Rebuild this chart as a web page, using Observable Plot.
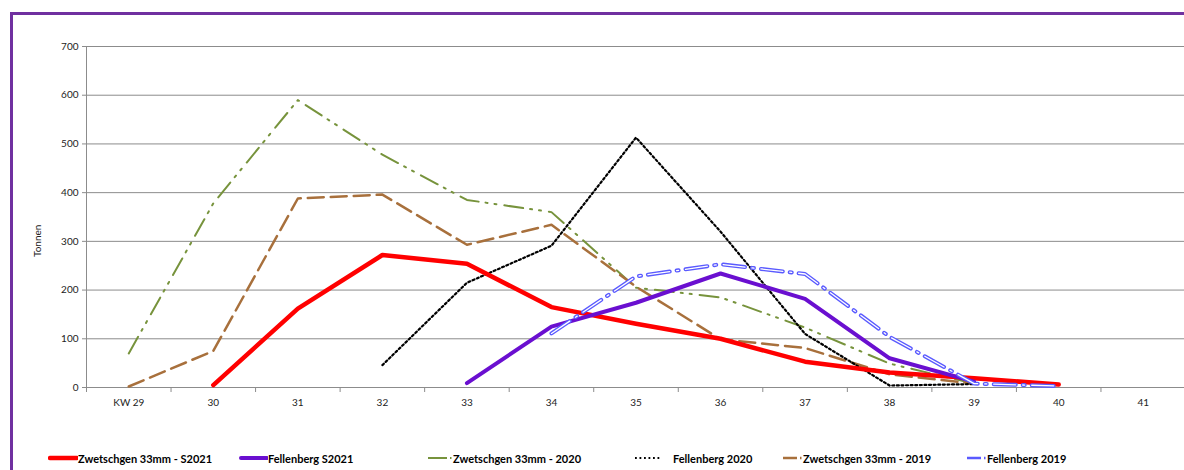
<!DOCTYPE html>
<html><head><meta charset="utf-8">
<script src="https://cdn.jsdelivr.net/npm/d3@7"></script>
<script src="https://cdn.jsdelivr.net/npm/@observablehq/plot@0.6"></script>
<style>
html,body{margin:0;padding:0;background:#fff;overflow:hidden;width:1184px;height:470px;position:relative;}
#frame{position:absolute;left:10px;top:12px;width:1300px;height:600px;border-left:3px solid #7030A0;border-top:3px solid #7030A0;}
#chart{position:absolute;left:0;top:0;width:1200px;}
#chart svg{max-width:none !important;}
.leg{position:absolute;top:451px;height:14px;display:flex;align-items:center;font:bold 11px Lato, sans-serif;color:#000;white-space:nowrap;}
.leg svg{display:block;}
</style></head><body>
<div id="frame"></div>
<div id="chart"></div>
<div id="legend"></div>
<script>
// Categories (calendar weeks)
const weeks = ["KW 29","30","31","32","33","34","35","36","37","38","39","40","41"];
// Series values (Tonnen), aligned with weeks; null = no value
const zwetschgenS2021 = [null, 5, 162, 272, 254, 165, 131, 100, 53, 31, 19, 6, null];
const fellenbergS2021 = [null, null, null, null, 9, 125, 174, 234, 182, 60, 12, null, null];
const zwetschgen2020  = [70, 378, 590, 478, 385, 360, 205, 185, 123, 49, 8, null, null];
const fellenberg2020  = [null, null, null, 46, 215, 291, 513, 320, 110, 4, 7, null, null];
const zwetschgen2019  = [2, 75, 388, 396, 293, 334, 207, 99, 81, 27, 8, null, null];
const fellenberg2019  = [null, null, null, null, null, 111, 228, 253, 233, 104, 8, 3, null];
const yTicks = [0, 100, 200, 300, 400, 500, 600, 700];
const seriesNames = ["Zwetschgen 33mm - S2021", "Fellenberg S2021", "Zwetschgen 33mm - 2020", "Fellenberg 2020", "Zwetschgen 33mm - 2019", "Fellenberg 2019"];

const idx = weeks.map((_, i) => i);
const bounds = weeks.map((_, i) => i - 0.5).concat([weeks.length - 0.5]);
const rows = vals => vals.map((v, i) => ({i, v})).filter(d => d.v != null);

const C = {red: "#ff0000", purple: "#6a0fd0", green: "#77933c", black: "#000000", brown: "#a8703c", blue: "#5a5aff"};
const D = {green: "19 7 2 7 2 8", black: "2 2.6", brown: "16 7", blue: "22 7 2 7"};

const plot = Plot.plot({
  width: 1200, height: 430,
  marginLeft: 86, marginRight: 15, marginTop: 46, marginBottom: 43,
  style: {fontFamily: "Lato, sans-serif", fontSize: "10px", color: "#222", background: "transparent", overflow: "visible", maxWidth: "none"},
  x: {type: "linear", domain: [-0.5, weeks.length - 0.5], axis: null},
  y: {domain: [0, 700], axis: null},
  marks: [
    Plot.ruleY(yTicks, {stroke: "#8c8c8c", strokeWidth: 1}),
    Plot.ruleX([-0.5], {stroke: "#8c8c8c"}),
    Plot.axisY(yTicks, {tickSize: 4, tickPadding: 4, stroke: "#8c8c8c", label: null}),
    Plot.axisX(bounds, {tickSize: 5, tickFormat: () => "", stroke: "#8c8c8c", label: null}),
    Plot.axisX(idx, {tickSize: 0, tickPadding: 11, tickFormat: i => weeks[i], label: null}),
    Plot.text(["Tonnen"], {frameAnchor: "left", rotate: -90, dx: -49, dy: 40}),
    Plot.line(rows(zwetschgen2020), {x: "i", y: "v", stroke: C.green, strokeWidth: 2, strokeDasharray: D.green, strokeLinejoin: "round"}),
    Plot.line(rows(zwetschgen2019), {x: "i", y: "v", stroke: C.brown, strokeWidth: 2.5, strokeDasharray: D.brown, strokeLinejoin: "round"}),
    Plot.line(rows(fellenberg2020), {x: "i", y: "v", stroke: C.black, strokeWidth: 2.2, strokeDasharray: D.black}),
    Plot.line(rows(zwetschgenS2021), {x: "i", y: "v", stroke: C.red, strokeWidth: 4.5, strokeLinejoin: "round", strokeLinecap: "round"}),
    Plot.line(rows(fellenbergS2021), {x: "i", y: "v", stroke: C.purple, strokeWidth: 4, strokeLinejoin: "round", strokeLinecap: "round"}),
    Plot.line(rows(fellenberg2019), {x: "i", y: "v", stroke: C.blue, strokeWidth: 4, strokeDasharray: D.blue, strokeLinejoin: "round"}),
    Plot.line(rows(fellenberg2019), {x: "i", y: "v", stroke: "#ffffff", strokeWidth: 1.3, strokeDasharray: D.blue, strokeLinejoin: "round"})
  ]
});
document.getElementById("chart").appendChild(plot);

// Legend
const legendItems = [
  {name: seriesNames[0], left: 48, w: 30, kind: "solid", color: C.red, sw: 4.5},
  {name: seriesNames[1], left: 239, w: 29, kind: "solid", color: C.purple, sw: 4},
  {name: seriesNames[2], left: 428, w: 25, kind: "dashdot", color: C.green, sw: 2},
  {name: seriesNames[3], left: 635, w: 38, kind: "dots", color: C.black, sw: 2},
  {name: seriesNames[4], left: 783, w: 20, kind: "dashdot", color: C.brown, sw: 2.5},
  {name: seriesNames[5], left: 967, w: 20, kind: "dashdot", color: C.blue, sw: 2.5}
];
const legend = document.getElementById("legend");
for (const it of legendItems) {
  const div = document.createElement("div");
  div.className = "leg";
  div.style.left = it.left + "px";
  let inner;
  if (it.kind === "solid") {
    inner = `<line x1="2" y1="7" x2="${it.w - 1}" y2="7" stroke="${it.color}" stroke-width="${it.sw}" stroke-linecap="round"/>`;
  } else if (it.kind === "dots") {
    inner = `<line x1="0" y1="7" x2="27" y2="7" stroke="${it.color}" stroke-width="1.8" stroke-dasharray="1.8 2.7"/>`;
  } else {
    inner = `<line x1="0" y1="7" x2="${it.w - 6}" y2="7" stroke="${it.color}" stroke-width="${it.sw}"/>` +
            `<line x1="${it.w - 3}" y1="7" x2="${it.w - 1.5}" y2="7" stroke="${it.color}" stroke-width="${it.sw}"/>`;
  }
  div.innerHTML = `<svg width="${it.w}" height="14">${inner}</svg><span>${it.name}</span>`;
  legend.appendChild(div);
}
</script>
</body></html>
